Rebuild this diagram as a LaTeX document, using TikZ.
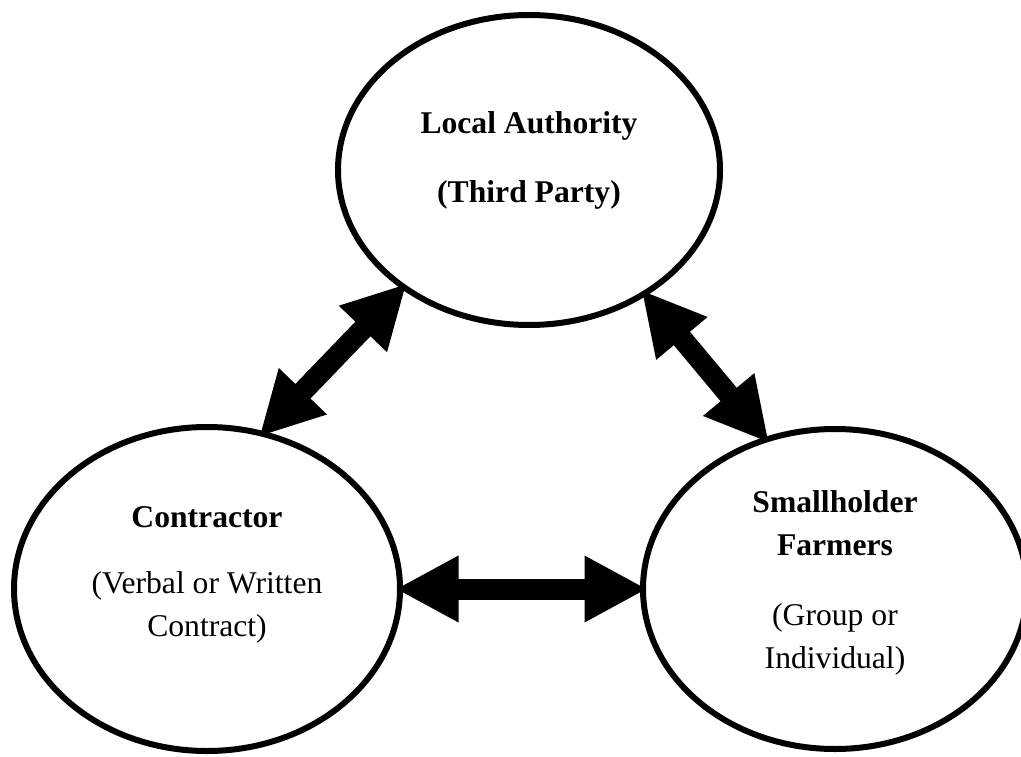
\documentclass[tikz,border=0pt]{standalone}
\usepackage{fontspec}
\setmainfont{Liberation Serif}
\usetikzlibrary{shapes.geometric,arrows.meta}
\tikzset{
% ellipses for the three parties, and the text set inside them
party/.style={ellipse,draw,line width=1.2mm,inner sep=0},
party text/.style={align=center,font=\fontsize{18}{24.5}\selectfont},
% thick two-headed link between two parties
link/.style={line width=4.2mm,shorten <=-1.5mm,shorten >=-1.5mm,
  {Triangle[length=12.6mm,width=12.4mm]}-{Triangle[length=12.6mm,width=12.4mm]}}
}

\begin{document}
\begin{tikzpicture}
      \useasboundingbox (0,0) rectangle (20.42,15.12);
      % The three parties
      \node(auth)[party,minimum width=7.64cm,minimum height=6.2cm] at (10.58,11.72) {};
      \node(con)[party,minimum width=7.72cm,minimum height=6.48cm] at (4.14,3.34) {};
      \node(farm)[party,minimum width=7.68cm,minimum height=6.4cm] at (16.70,3.34) {};
      % Their texts
      \node(auth text)[party text] at ([yshift=2mm]auth.center)
        {\textbf{Local Authority}\\[5.2mm]\textbf{(Third Party)}};
      \node(con text)[party text] at ([yshift=2.8mm]con.center)
        {\textbf{Contractor}\\[4.6mm](Verbal or Written\\Contract)};
      \node(farm text)[party text] at ([yshift=1.3mm]farm.center)
        {\textbf{Smallholder}\\\textbf{Farmers}\\[5.4mm](Group or\\Individual)};
      % Links between parties
      \draw[link] (auth.223) -- (con.70);
      \draw[link] (auth.313) -- (farm.115);
      \draw[link] (con.east) -- (farm.west);
    \end{tikzpicture}
\end{document}
